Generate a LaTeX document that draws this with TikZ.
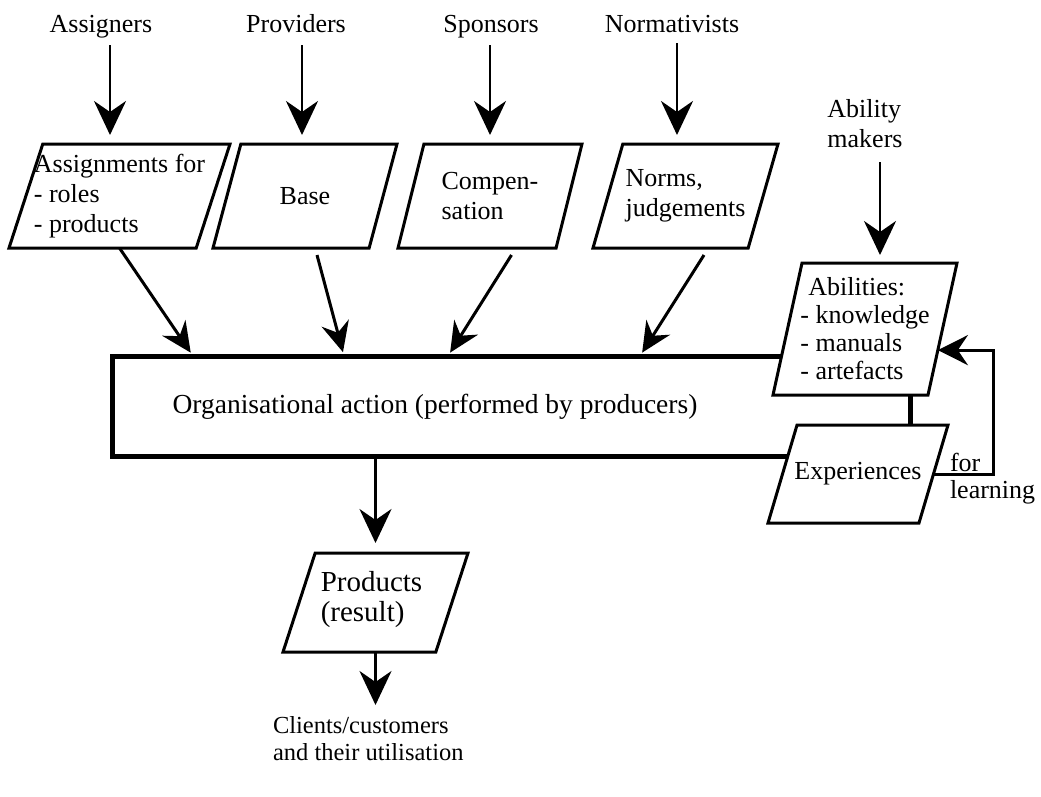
\documentclass[tikz,border=0pt]{standalone}
\usepackage{fontspec}
\setmainfont{Liberation Serif}
\usetikzlibrary{arrows.meta,shapes.geometric,calc}
\begin{document}
\begin{tikzpicture}[x=1pt,y=-1pt,
  every node/.style={font=\fontsize{26}{30}\selectfont,inner sep=0pt,outer sep=0pt},
  every label/.style={align=left},
  lbl/.style={anchor=base},
  para/.style 2 args={draw,fill=white,line width=3pt,trapezium,trapezium stretches body,
    trapezium left angle=#1,trapezium right angle=#2,inner xsep=0pt},
  actbox/.style={draw,line width=5pt},
  bigarrow/.style={-{Stealth[length=34pt,width=32pt,inset=11pt]},line width=2.5pt},
  smallarrow/.style={-{Stealth[length=30pt,width=28pt,inset=10pt]},line width=3pt,shorten >=4pt},
  loopline/.style={-{Stealth[length=30pt,width=30pt,inset=10pt]},line width=3pt}]
\path[use as bounding box] (0,0) rectangle (1041,796);

\node[lbl] (assigners) at (101,32) {Assigners};
\node[lbl] (providers) at (296,32) {Providers};
\node[lbl] (sponsors) at (491,32) {Sponsors};
\node[lbl] (normativists) at (672,32) {Normativists};
\node[align=left] (makers) at (865,124) {Ability\\makers};

\node[para={72}{108},inner ysep=52,minimum width=221,
  label={[name=assigntext]center:{Assignments for\\- roles\\- products}}] (assign) at (119.5,196) {};
\node[para={75}{105},inner ysep=52,minimum width=184,
  label={[name=basetext]center:Base}] (base) at (305,196) {};
\node[para={76}{104},inner ysep=52,minimum width=184,
  label={[name=comptext]center:{Compen-\\sation}}] (comp) at (490,196) {};
\node[para={74}{106},inner ysep=52,minimum width=185,
  label={[name=normstext]center:{Norms,\\judgements}}] (norms) at (685.5,196) {};

\draw[bigarrow,shorten >=9pt] ($(assigners.base)+(9,13)$) coordinate (t1) -- (t1 |- assign.north);
\draw[bigarrow,shorten >=9pt] ($(providers.base)+(6,13)$) coordinate (t2) -- (t2 |- base.north);
\draw[bigarrow,shorten >=9pt] ($(sponsors.base)+(-1,13)$) coordinate (t3) -- (t3 |- comp.north);
\draw[bigarrow,shorten >=9pt] ($(normativists.base)+(5,11)$) coordinate (t4) -- (t4 |- norms.north);

\node[actbox,minimum width=798,minimum height=100] (act) at (511,406) {};
\node[font=\fontsize{27.5}{30}\selectfont] (acttext) at (435,407) {Organisational action (performed by producers)};

\coordinate (inA) at ($(act.north west)+(81,0)$);
\coordinate (inB) at ($(act.north west)+(232,0)$);
\coordinate (inC) at ($(act.north west)+(336,0)$);
\coordinate (inD) at ($(act.north west)+(528,0)$);
\draw[smallarrow] (assign.south) -- (inA);
\draw[smallarrow] ($(base.south)+(12,7)$) -- (inB);
\draw[smallarrow] ($(comp.south)+(21.5,7)$) -- (inC);
\draw[smallarrow] ($(norms.south)+(18.5,7)$) -- (inD);

\node[para={77.6}{102.4},inner ysep=66,minimum width=184,
  label={[name=abiltext,font=\fontsize{26}{28}\selectfont]center:{\hspace*{8pt}Abilities:\\- knowledge\\- manuals\\- artefacts}}] (abil) at (865,329) {};
\node[para={73.5}{106.5},inner ysep=49,minimum width=180,
  label={[name=exptext]center:Experiences}] (exp) at (858,474) {};
\node[align=left,anchor=west,font=\fontsize{26}{27}\selectfont] (forlearn) at (950,479) {for\\learning};

\draw[bigarrow,shorten >=8pt] ($(makers.south)+(15,14)$) coordinate (t5) -- (t5 |- abil.north);

\coordinate (learnin) at ($(abil.top right corner)!0.66!(abil.bottom right corner)$);
\draw[loopline] (exp.east) -- ++(60,0) |- (learnin);

\node[para={72}{108},inner ysep=49.5,minimum width=185,
  label={[name=prodtext,font=\fontsize{29}{30}\selectfont,xshift=-4pt,yshift=3pt]center:{Products\\(result)}}] (prod) at (375.5,602.5) {};
\node[align=left,anchor=north west,font=\fontsize{24.5}{27}\selectfont] (clients) at (273,716) {Clients/customers\\and their utilisation};

\draw[bigarrow,shorten >=10pt] (act.south -| prod) -- (prod.north -| prod);
\draw[bigarrow,shorten >=11pt] (prod.south -| prod) -- (prod |- clients.north);
\end{tikzpicture}
\end{document}
